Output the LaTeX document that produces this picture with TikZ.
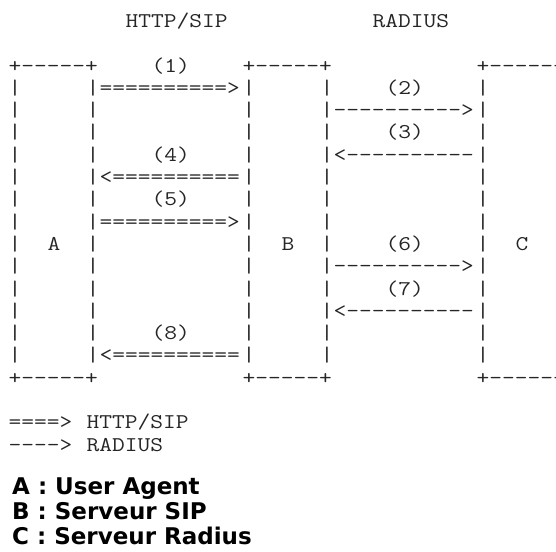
\documentclass[tikz,border=0pt]{standalone}
\usepackage{fontspec}
\setmonofont{Latin Modern Mono}[FakeStretch=1.18]
\newfontfamily\lblfont{DejaVu Sans}
\newcommand\asc[4]{\node[mono] (#1) at ({8.5+13*(#2)},{-72-22.3*(#3)}) {#4};}
\begin{document}
\begin{tikzpicture}[x=1pt,y=1pt,
  mono/.style={font=\ttfamily\fontsize{20.98}{24}\selectfont, inner sep=0pt, anchor=base west, text=black!85},
  lbl/.style={font=\lblfont\bfseries\fontsize{23}{25}\selectfont, inner sep=0pt, anchor=base west, text=black}]
\useasboundingbox (0,0) rectangle (556,-551);
% headers
\asc{hsip}{9}{-2}{HTTP/SIP}
\asc{hrad}{28}{-2}{RADIUS}
% box corners
\asc{atop}{0}{0}{+-----+}
\asc{btop}{18}{0}{+-----+}
\asc{ctop}{36}{0}{+------}
\asc{abot}{0}{14}{+-----+}
\asc{bbot}{18}{14}{+-----+}
\asc{cbot}{36}{14}{+------}
% vertical bars
\foreach \r in {1,...,13} {
  \foreach \c in {0,6,18,24,36} {
    \asc{bar\c-\r}{\c}{\r}{|}
  }
}
% entity letters
\asc{la}{3}{8}{A}
\asc{lb}{21}{8}{B}
\asc{lc}{39}{8}{C}
% message numbers
\asc{n1}{11}{0}{(1)}
\asc{n2}{29}{1}{(2)}
\asc{n3}{29}{3}{(3)}
\asc{n4}{11}{4}{(4)}
\asc{n5}{11}{6}{(5)}
\asc{n6}{29}{8}{(6)}
\asc{n7}{29}{10}{(7)}
\asc{n8}{11}{12}{(8)}
% message arrows
\asc{m1}{7}{1}{==========>}
\asc{m2}{25}{2}{---------->}
\asc{m3}{25}{4}{<----------}
\asc{m4}{7}{5}{<==========}
\asc{m5}{7}{7}{==========>}
\asc{m6}{25}{9}{---------->}
\asc{m7}{25}{11}{<----------}
\asc{m8}{7}{13}{<==========}
% legend
\asc{k1}{0}{16}{====>}
\asc{k1t}{6}{16}{HTTP/SIP}
\asc{k2}{0}{17}{---->}
\asc{k2t}{6}{17}{RADIUS}
% bold labels
\node[lbl] (da) at (12,-494) {A : User Agent};
\node[lbl] (db) at (12,-519) {B : Serveur SIP};
\node[lbl] (dc) at (12,-544) {C : Serveur Radius};
\end{tikzpicture}
\end{document}
